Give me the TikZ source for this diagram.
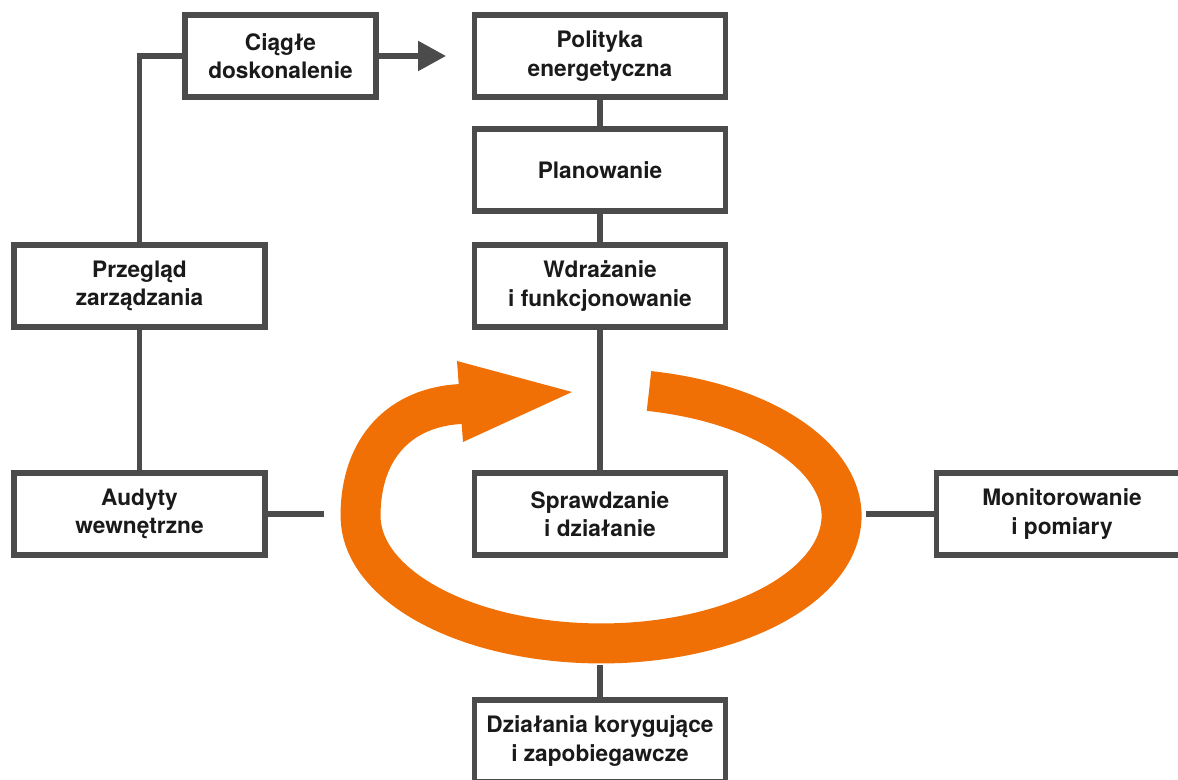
\documentclass[tikz,border=0pt]{standalone}
\usepackage{fontspec}
\setmainfont{TeX Gyre Heros}
\usepackage{tikz}
\usetikzlibrary{arrows.meta}
\definecolor{boxgray}{HTML}{4B4B4B}
\definecolor{textblack}{HTML}{1A1A1A}
\definecolor{ringorange}{HTML}{F17006}
\begin{document}
\begin{tikzpicture}[x=0.02cm, y=0.02cm,
    box/.style={draw=boxgray, line width=0.11cm, fill=white, minimum width=5.03cm, minimum height=1.64cm,
      align=center, text=textblack, font=\bfseries\fontsize{12.9}{16}\selectfont, inner sep=0pt},
    line/.style={draw=boxgray, line width=0.11cm},
    ring/.style={draw=ringorange, line width=0.8cm}]
    \useasboundingbox (0,0) rectangle (1178,780);

    % orange cycle
    \draw[ring] (649,389) arc[start angle=78.5, end angle=-180, x radius=240.5, y radius=127.5]
      .. controls (360.5,333) and (401,373) .. (461,376);
    \fill[ringorange] (457,419) -- (572,388) -- (463,338) -- cycle;

    \node[box, minimum width=3.83cm] (ciagle) at (280.5,724) {Ciągłe\\doskonalenie};
    \node[box] (polityka) at (600,724) {Polityka\\energetyczna};
    \node[box] (planowanie) at (600,610) {Planowanie};
    \node[box] (wdrazanie) at (600,494) {Wdrażanie\\i funkcjonowanie};
    \node[box] (sprawdzanie) at (600,266) {Sprawdzanie\\i działanie};
    \node[box] (dzialania) at (600,39) {Działania korygujące\\i zapobiegawcze};
    \node[box] (przeglad) at (139.5,494) {Przegląd\\zarządzania};
    \node[box] (audyty) at (139.5,266) {Audyty\\wewnętrzne};
    \node[box] (monitorowanie) at (1062,266) {Monitorowanie\\i pomiary};

    \coordinate (ciagleend) at (446,724);
    \coordinate (audytyend) at (324,266);
    \coordinate (monend) at (866,266);
    \coordinate (dzend) at (600,115);

    \draw[line, -{Triangle[length=0.56cm, width=0.58cm]}] (ciagle) -- (ciagleend);
    \draw[line] (ciagle.west) -| (przeglad.north);
    \draw[line] (przeglad) -- (audyty);
    \draw[line] (polityka) -- (planowanie);
    \draw[line] (planowanie) -- (wdrazanie);
    \draw[line] (wdrazanie) -- (sprawdzanie);
    \draw[line] (audyty) -- (audytyend);
    \draw[line] (monend) -- (monitorowanie);
    \draw[line] (dzend) -- (dzialania);
\end{tikzpicture}
\end{document}
